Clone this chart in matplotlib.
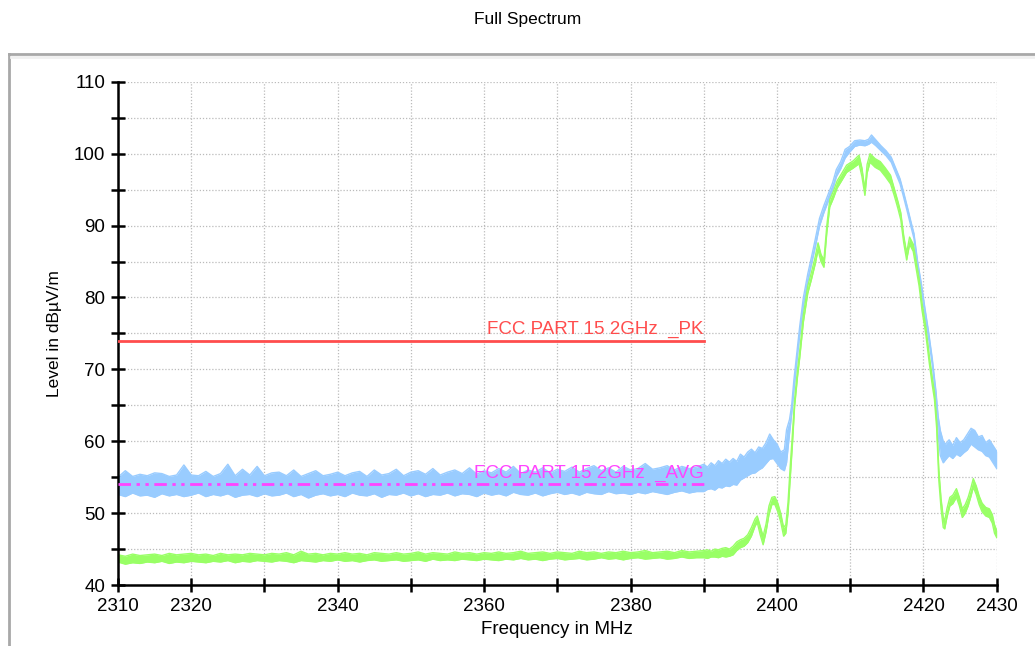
import numpy as np
import matplotlib
matplotlib.use('Agg')
import matplotlib.pyplot as plt
from matplotlib.lines import Line2D
from matplotlib.ticker import MultipleLocator, FixedLocator, FixedFormatter

plt.rcParams['font.family'] = ['Liberation Sans', 'DejaVu Sans']

# flat part of the sweep, 2310..2389 MHz in 1 MHz steps
flatFreq = np.arange(2310, 2390)

blueHiFlat = [
	55.0, 55.9, 55.1, 55.4, 55.2, 55.6, 55.5, 55.1, 55.3, 56.7,
	55.3, 55.2, 55.8, 55.1, 55.5, 56.8, 55.2, 56.1, 55.3, 56.5,
	55.2, 55.6, 55.7, 55.2, 56.0, 55.1, 55.5, 55.9, 55.2, 55.4,
	55.7, 55.2, 55.6, 55.8, 55.1, 56.0, 55.3, 55.5, 56.1, 55.2,
	55.7, 55.9, 55.4, 56.2, 55.3, 55.7, 56.0, 55.5, 56.3, 55.4,
	55.9, 55.6, 56.2, 55.7, 56.5, 55.5, 56.0, 55.7, 56.3, 55.6,
	56.1, 55.8, 56.4, 55.7, 56.2, 56.6, 55.9, 56.3, 55.7, 56.5,
	56.0, 56.2, 56.9, 56.1, 56.3, 56.6, 56.0, 56.5, 56.2, 56.4,
]
blueLoFlat = [
	52.6, 52.3, 52.8, 52.4, 52.5, 52.2, 52.7, 52.4, 52.6, 52.3,
	52.5, 52.8, 52.3, 52.6, 52.4, 52.7, 52.2, 52.5, 52.6, 52.3,
	52.7, 52.4, 52.5, 52.8, 52.3, 52.6, 52.1, 52.5, 52.7, 52.4,
	52.6, 52.3, 52.8, 52.5, 52.4, 52.7, 52.2, 52.6, 52.5, 52.8,
	52.4, 52.7, 52.3, 52.6, 52.5, 52.8, 52.4, 52.7, 52.6, 52.3,
	52.8, 52.5, 52.7, 52.4, 52.9, 52.6, 52.5, 52.8, 52.4, 52.7,
	52.9, 52.6, 52.8, 52.5, 52.9, 52.7, 52.6, 53.0, 52.7, 52.8,
	52.6, 52.9, 52.7, 53.0, 52.8, 52.6, 52.9, 53.1, 52.8, 53.0,
]
greenHiFlat = [
	44.2, 44.0, 44.3, 44.1, 44.2, 44.3, 44.1, 44.4, 44.2, 44.3,
	44.4, 44.2, 44.3, 44.1, 44.4, 44.2, 44.3, 44.2, 44.4, 44.3,
	44.2, 44.4, 44.3, 44.5, 44.2, 44.7, 44.3, 44.4, 44.2, 44.4,
	44.3, 44.5, 44.3, 44.4, 44.2, 44.5, 44.4, 44.3, 44.5, 44.3,
	44.4, 44.6, 44.3, 44.5, 44.4, 44.3, 44.6, 44.4, 44.5, 44.3,
	44.5, 44.4, 44.6, 44.4, 44.5, 44.7, 44.4, 44.5, 44.6, 44.4,
	44.6, 44.5, 44.4, 44.7, 44.5, 44.6, 44.4, 44.6, 44.5, 44.7,
	44.5, 44.6, 44.8, 44.5, 44.6, 44.7, 44.5, 44.8, 44.6, 44.7,
]
greenLoFlat = [
	43.2, 42.9, 43.1, 43.0, 43.2, 43.1, 43.3, 43.0, 43.2, 43.1,
	43.3, 43.2, 43.1, 43.3, 43.2, 43.4, 43.1, 43.3, 43.2, 43.4,
	43.3, 43.2, 43.4, 43.3, 43.1, 43.4, 43.3, 43.2, 43.4, 43.3,
	43.5, 43.3, 43.4, 43.2, 43.4, 43.5, 43.3, 43.4, 43.5, 43.3,
	43.4, 43.5, 43.3, 43.6, 43.4, 43.5, 43.4, 43.6, 43.5, 43.4,
	43.6, 43.5, 43.4, 43.6, 43.5, 43.7, 43.5, 43.6, 43.4, 43.6,
	43.7, 43.5, 43.6, 43.7, 43.5, 43.6, 43.8, 43.6, 43.7, 43.5,
	43.7, 43.8, 43.6, 43.7, 43.8, 43.6, 43.7, 43.9, 43.7, 43.8,
]

# band edge and carrier, 2390..2430 MHz
blueFreq = [
	2390.0, 2390.5, 2391.0, 2391.5, 2392.0, 2392.5, 2393.0, 2393.5, 2394.0, 2394.5,
	2395.0, 2395.5, 2396.0, 2396.5, 2397.0, 2397.5, 2398.0, 2398.5, 2399.0, 2399.5,
	2400.0, 2400.5, 2401.0, 2401.3, 2401.7, 2402.0, 2402.3, 2402.7, 2403.1, 2403.6,
	2404.2, 2404.7, 2405.2, 2405.8, 2406.4, 2407.0, 2407.6, 2408.1, 2408.7, 2409.3,
	2409.9, 2410.6, 2411.3, 2412.0, 2412.5, 2412.9, 2413.5, 2414.2, 2414.9, 2415.6,
	2416.2, 2416.8, 2417.3, 2417.8, 2418.3, 2418.7, 2419.2, 2419.7, 2420.2, 2420.7,
	2421.2, 2421.7, 2422.0, 2422.3, 2422.7, 2423.0, 2423.5, 2424.0, 2424.5, 2425.0,
	2425.5, 2426.0, 2426.5, 2427.0, 2427.5, 2428.0, 2428.5, 2429.0, 2429.5, 2430.0,
]
blueHi = [
	56.8, 56.4, 57.0, 56.6, 57.3, 56.9, 57.5, 57.1, 57.6, 57.2,
	58.2, 57.8, 58.5, 58.9, 58.4, 59.2, 59.0, 59.8, 61.0, 60.2,
	59.6, 58.5, 58.8, 61.6, 63.0, 65.0, 68.5, 72.3, 76.0, 80.0,
	83.3, 85.6, 88.0, 91.0, 92.8, 94.4, 96.0, 97.8, 98.9, 100.6,
	101.0, 101.8, 101.9, 101.8, 102.0, 102.6, 101.9, 101.1, 100.4, 99.5,
	98.0, 96.5, 94.6, 92.6, 90.5, 88.9, 85.0, 82.0, 78.5, 75.2,
	71.5, 67.0, 63.5, 61.5, 60.0, 59.6, 60.2, 59.4, 60.5, 59.8,
	60.2, 61.0, 61.8, 61.5, 60.6, 60.8, 59.8, 60.2, 59.4, 58.6,
]
blueLo = [
	53.0, 53.3, 53.4, 53.2, 53.6, 53.5, 53.8, 53.7, 54.0, 53.9,
	54.6, 54.9, 55.2, 55.5, 55.6, 56.0, 56.3, 56.9, 57.5, 57.6,
	56.9, 56.2, 55.9, 57.0, 61.0, 63.8, 67.0, 71.0, 74.8, 78.8,
	82.2, 84.6, 86.9, 89.9, 91.8, 93.4, 95.0, 96.8, 97.9, 99.4,
	100.2, 101.0, 101.2, 101.1, 101.3, 101.6, 101.1, 100.4, 99.7, 98.8,
	97.3, 95.8, 93.9, 91.9, 89.8, 88.2, 84.2, 81.2, 77.6, 74.3,
	70.6, 66.0, 61.0, 58.0, 57.0, 57.4, 58.0, 57.6, 58.2, 57.9,
	58.4, 58.8, 59.6, 59.2, 58.8, 58.6, 58.0, 57.8, 57.0, 56.2,
]

greenFreq = [
	2390.0, 2390.5, 2391.0, 2391.5, 2392.0, 2392.5, 2393.0, 2393.5, 2394.0, 2394.5,
	2395.0, 2395.5, 2396.0, 2396.5, 2397.0, 2397.3, 2397.7, 2398.1, 2398.5, 2398.9,
	2399.3, 2399.7, 2400.1, 2400.5, 2400.9, 2401.2, 2401.5, 2401.8, 2402.1, 2402.4,
	2402.8, 2403.1, 2403.6, 2404.2, 2404.7, 2405.2, 2405.6, 2406.0, 2406.4, 2406.8,
	2407.2, 2407.7, 2408.2, 2408.8, 2409.5, 2410.4, 2411.2, 2411.6, 2412.0, 2412.3,
	2412.7, 2413.4, 2414.1, 2414.8, 2415.5, 2416.0, 2416.5, 2416.9, 2417.3, 2417.7,
	2418.1, 2418.6, 2419.0, 2419.4, 2419.8, 2420.3, 2420.8, 2421.2, 2421.5, 2421.8,
	2422.1, 2422.4, 2422.7, 2422.9, 2423.2, 2423.6, 2424.0, 2424.5, 2424.9, 2425.3,
	2425.7, 2426.1, 2426.5, 2426.8, 2427.2, 2427.6, 2428.0, 2428.5, 2429.0, 2429.4,
	2429.7, 2430.0,
]
greenHi = [
	44.8, 44.9, 44.7, 45.0, 44.9, 45.1, 45.2, 45.0, 45.4, 46.0,
	46.3, 46.5, 47.0, 48.0, 49.2, 49.6, 48.2, 46.8, 48.5, 51.0,
	52.2, 52.3, 51.4, 50.0, 48.0, 48.4, 51.5, 56.5, 61.0, 65.8,
	70.0, 72.6, 77.6, 81.6, 83.5, 85.6, 87.6, 86.0, 85.2, 90.0,
	93.6, 94.8, 96.2, 97.2, 98.4, 99.0, 99.8, 98.0, 95.0, 98.5,
	100.0, 99.3, 98.9, 98.0, 97.0, 95.2, 93.4, 91.8, 88.6, 86.2,
	88.4, 87.4, 85.0, 82.6, 79.2, 76.0, 71.8, 68.8, 66.8, 62.8,
	56.0, 52.0, 49.4, 49.0, 50.6, 52.2, 52.5, 53.4, 52.2, 50.6,
	51.2, 52.2, 53.6, 54.8, 53.8, 52.4, 51.4, 50.8, 50.6, 49.8,
	48.4, 47.6,
]
greenLo = [
	43.8, 43.7, 43.9, 43.9, 43.8, 44.0, 43.9, 44.0, 44.2, 44.8,
	45.2, 45.4, 45.9, 46.8, 48.2, 48.7, 47.0, 45.6, 47.4, 49.8,
	51.2, 51.2, 50.2, 48.8, 46.8, 47.2, 50.0, 54.8, 59.5, 64.8,
	69.0, 71.6, 76.6, 80.6, 82.5, 84.6, 86.6, 85.0, 84.2, 89.0,
	92.6, 93.8, 95.2, 96.2, 97.4, 98.0, 98.6, 96.8, 94.2, 97.3,
	98.8, 98.1, 97.7, 96.8, 95.8, 94.2, 92.4, 90.8, 87.6, 85.2,
	87.4, 86.4, 84.0, 81.6, 78.2, 75.0, 70.8, 67.8, 65.8, 61.8,
	54.5, 50.6, 48.0, 47.8, 49.4, 51.0, 51.3, 52.2, 51.0, 49.4,
	50.0, 51.0, 52.4, 53.6, 52.6, 51.2, 50.2, 49.6, 49.4, 48.6,
	47.2, 46.6,
]

# limit lines
limitStart = 2310
limitStop = 2390
pkLimit = 74
avgLimit = 54
pkLabel = 'FCC PART 15 2GHz  _PK'
avgLabel = 'FCC PART 15 2GHz  _AVG'

xTicks = [2310, 2320, 2330, 2340, 2350, 2360, 2370, 2380, 2390, 2400, 2410, 2420, 2430]
xTickLabels = ['2310', '2320', '', '2340', '', '2360', '', '2380', '', '2400', '', '2420', '2430']

blueColor = '#99ccff'
greenColor = '#99ff66'
pkColor = '#ff4d4d'
avgColor = '#ff44ff'


def drawTrace(ax, freq, hi, lo, color):
	ax.fill_between(freq, lo, hi, color=color, linewidth=0, zorder=2)
	ax.plot(freq, hi, color=color, linewidth=1.0, zorder=2)
	ax.plot(freq, lo, color=color, linewidth=1.0, zorder=2)


fig = plt.figure(figsize=(10.35, 6.46), dpi=100)
ax = fig.add_axes([0.114, 0.0944, 0.849, 0.779])

# outer frame of the report page
fig.add_artist(Line2D([0.0087, 0.0087], [0.0, 0.9164], color='#a8a8a8', linewidth=2))
fig.add_artist(Line2D([0.0087, 1.0], [0.9164, 0.9164], color='#a8a8a8', linewidth=2))
fig.add_artist(Line2D([0.0107, 1.0], [0.911, 0.911], color='#f0f0f0', linewidth=2))

fig.text(0.5095, 0.970, 'Full Spectrum', ha='center', va='center', fontsize=12.5)

drawTrace(ax, np.concatenate([flatFreq, blueFreq]), blueHiFlat + blueHi, blueLoFlat + blueLo, blueColor)
drawTrace(ax, np.concatenate([flatFreq, greenFreq]), greenHiFlat + greenHi, greenLoFlat + greenLo, greenColor)

ax.plot([limitStart, limitStop], [pkLimit, pkLimit], color=pkColor, linewidth=2, zorder=3)
avgLine, = ax.plot([limitStart, limitStop], [avgLimit, avgLimit], color=avgColor, linewidth=2, zorder=3)
avgLine.set_dashes([4.5, 2.0, 1.2, 2.0, 1.2, 2.0])

ax.text(limitStop, pkLimit + 0.3, pkLabel, ha='right', va='bottom', color=pkColor, fontsize=13.5, zorder=4)
ax.text(limitStop, avgLimit + 0.3, avgLabel, ha='right', va='bottom', color=avgColor, fontsize=13.5, zorder=4)

ax.set_xlim(2310, 2430)
ax.set_ylim(40, 110)
ax.xaxis.set_major_locator(FixedLocator(xTicks))
ax.xaxis.set_major_formatter(FixedFormatter(xTickLabels))
ax.yaxis.set_major_locator(MultipleLocator(10))
ax.yaxis.set_minor_locator(MultipleLocator(5))

ax.grid(True, which='both', axis='both', color='#bbbbbb', linestyle=(0, (1, 1.5)), linewidth=0.9, zorder=0)
ax.set_axisbelow(True)

for side in ['top', 'right']:
	ax.spines[side].set_visible(False)
for side in ['left', 'bottom']:
	ax.spines[side].set_linewidth(1.8)
	ax.spines[side].set_color('black')

ax.tick_params(axis='both', which='both', direction='inout', length=10, width=1.8, labelsize=13.5, colors='black')
ax.tick_params(axis='x', pad=4)
ax.tick_params(axis='y', pad=4)

ax.set_xlabel('Frequency in MHz', fontsize=13.5, labelpad=5)
ax.set_ylabel('Level in dBµV/m', fontsize=12.5, labelpad=9)

fig.savefig('out.png', dpi=100)
